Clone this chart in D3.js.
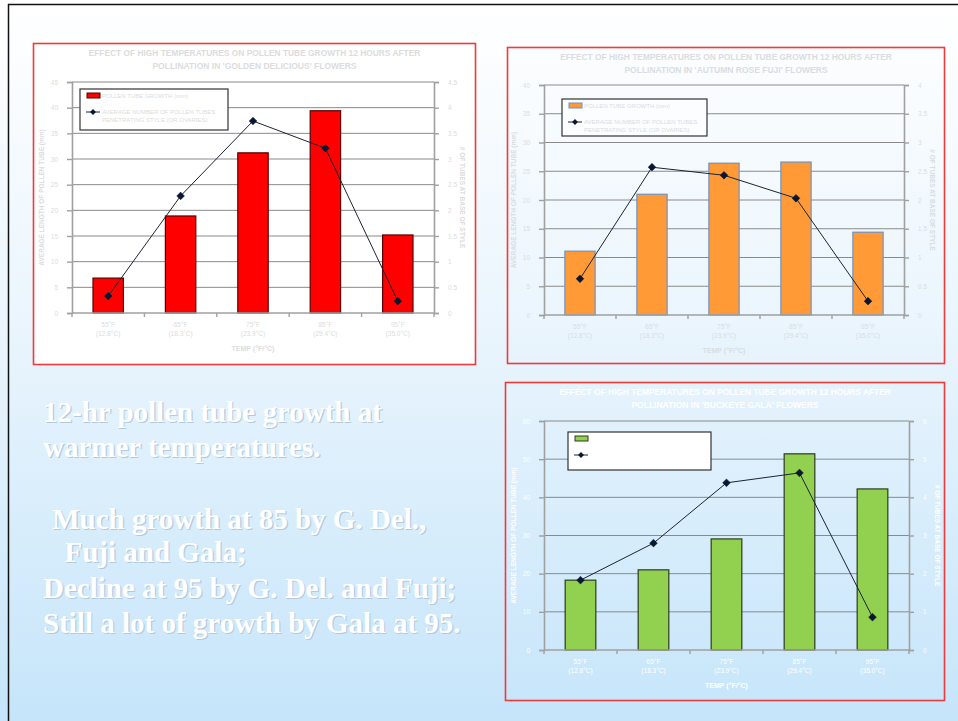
<!DOCTYPE html>
<html><head><meta charset="utf-8">
<script src="https://cdn.jsdelivr.net/npm/d3@7/dist/d3.min.js"></script>
<style>
html,body{margin:0;padding:0;overflow:hidden;}
svg{display:block;}
</style></head>
<body>
<script>
// ---------- DATA ----------
const tempF = ["55°F","65°F","75°F","85°F","95°F"];
const tempC = ["(12.8°C)","(18.3°C)","(23.9°C)","(29.4°C)","(35.0°C)"];

const gdLength = [6.8, 18.9, 31.2, 39.4, 15.2];
const gdTubes  = [0.33, 2.28, 3.74, 3.21, 0.23];
const gdLeftTicks  = [0,5,10,15,20,25,30,35,40,45];
const gdRightTicks = [0,0.5,1,1.5,2,2.5,3,3.5,4,4.5];

const fujiLength = [11.1, 21.0, 26.4, 26.6, 14.4];
const fujiTubes  = [0.63, 2.57, 2.43, 2.03, 0.24];
const fujiLeftTicks  = [0,5,10,15,20,25,30,35,40];
const fujiRightTicks = [0,0.5,1,1.5,2,2.5,3,3.5,4];

const galaLength = [18.3, 21.0, 29.1, 51.4, 42.2];
const galaTubes  = [1.83, 2.80, 4.38, 4.64, 0.86];
const galaLeftTicks  = [0,10,20,30,40,50,60];
const galaRightTicks = [0,1,2,3,4,5,6];

const titleLine1 = "EFFECT OF HIGH TEMPERATURES ON POLLEN TUBE GROWTH 12 HOURS AFTER";
const titles2 = ["POLLINATION IN 'GOLDEN DELICIOUS' FLOWERS","POLLINATION IN 'AUTUMN ROSE FUJI' FLOWERS","POLLINATION IN 'BUCKEYE GALA' FLOWERS"];
const legendBar = "POLLEN TUBE GROWTH (mm)";
const legendLine = ["AVERAGE NUMBER OF POLLEN TUBES","PENETRATING STYLE (OR OVARIES)"];
const leftTitle = "AVERAGE LENGTH OF POLLEN TUBE (mm)";
const rightTitle = "# OF TUBES AT BASE OF STYLE";
const xTitle = "TEMP (°F/°C)";

const slideText = [
  {t:"12-hr pollen tube growth at", x:43, y:422},
  {t:"warmer temperatures.", x:43, y:457},
  {t:" Much growth at 85 by G. Del.,", x:45, y:529},
  {t:"  Fuji and Gala;", x:50, y:562},
  {t:"Decline at 95 by G. Del. and Fuji;", x:43, y:598},
  {t:"Still a lot of growth by Gala at 95.", x:43, y:633}
];

// ---------- DRAW ----------
const W=958,H=721;
const svg=d3.select("body").append("svg").attr("width",W).attr("height",H);
const defs=svg.append("defs");
const g=defs.append("linearGradient").attr("id","bg").attr("x1",0).attr("y1",0).attr("x2",0).attr("y2",1);
g.append("stop").attr("offset","0%").attr("stop-color","#ffffff");
g.append("stop").attr("offset","45%").attr("stop-color","#eaf5fd");
g.append("stop").attr("offset","100%").attr("stop-color","#c6e5fa");
svg.append("rect").attr("width",W).attr("height",H).attr("fill","url(#bg)");
svg.append("line").attr("x1",8).attr("x2",W).attr("y1",4.5).attr("y2",4.5).attr("stroke","#111").attr("stroke-width",1.5);
svg.append("line").attr("x1",8.5).attr("x2",8.5).attr("y1",4).attr("y2",H).attr("stroke","#111").attr("stroke-width",1.5);

function chart(cfg){
  const root=svg.append("g");
  if(cfg.frameFill) root.append("rect").attr("x",cfg.frame[0]).attr("y",cfg.frame[1])
    .attr("width",cfg.frame[2]-cfg.frame[0]).attr("height",cfg.frame[3]-cfg.frame[1]).attr("fill",cfg.frameFill);
  const [l,t,r,b]=cfg.plot;
  const x=d3.scaleBand().domain(tempF).range([l,r]).paddingInner(0.58).paddingOuter(0.29);
  const yL=d3.scaleLinear().domain([0,d3.max(cfg.leftTicks)]).range([b,t]);
  const yR=d3.scaleLinear().domain([0,d3.max(cfg.rightTicks)]).range([b,t]);
  const tc=cfg.textColor;
  // grid
  root.append("g").selectAll("line").data(cfg.leftTicks.filter(d=>d>0)).join("line")
    .attr("x1",l).attr("x2",r).attr("y1",d=>yL(d)).attr("y2",d=>yL(d))
    .attr("stroke","#8a8a8a").attr("stroke-width",1);
  // axes
  const axL=d3.axisLeft(yL).tickValues(cfg.leftTicks).tickSize(5).tickPadding(9).tickFormat(d3.format("~g"));
  const axR=d3.axisRight(yR).tickValues(cfg.rightTicks).tickSize(5).tickPadding(9).tickFormat(d3.format("~g"));
  const gl=root.append("g").attr("transform",`translate(${l},0)`).call(axL);
  const gr=root.append("g").attr("transform",`translate(${r},0)`).call(axR);
  [gl,gr].forEach(a=>{
    a.select(".domain").attr("stroke","#a0a0a0").attr("stroke-width",1.6);
    a.selectAll(".tick line").attr("stroke","#a0a0a0").attr("stroke-width",1.4);
    a.selectAll("text").attr("fill",tc).attr("font-size",6.5).attr("font-family","Liberation Sans, Arial, sans-serif");
  });
  // bars
  root.append("g").selectAll("rect").data(cfg.bars).join("rect")
    .attr("x",(d,i)=>x(tempF[i])).attr("y",d=>yL(d)).attr("width",x.bandwidth())
    .attr("height",d=>b-yL(d)).attr("fill",cfg.barFill).attr("stroke",cfg.barStroke).attr("stroke-width",1.2);
  // x axis line & ticks
  root.append("line").attr("x1",l).attr("x2",r).attr("y1",b).attr("y2",b).attr("stroke","#a0a0a0").attr("stroke-width",1.6);
  const step=x.step();
  root.append("g").selectAll("line").data(d3.range(6)).join("line")
    .attr("x1",i=>l+i*step).attr("x2",i=>l+i*step).attr("y1",b).attr("y2",b+4)
    .attr("stroke","#a0a0a0").attr("stroke-width",1.4);
  // x labels
  const xl=root.append("g").attr("font-family","Liberation Sans, Arial, sans-serif").attr("font-size",6.5).attr("fill",tc).attr("text-anchor","middle");
  xl.selectAll("text.f").data(tempF).join("text").attr("class","f")
    .attr("x",d=>x(d)+x.bandwidth()/2).attr("y",b+14).text(d=>d);
  xl.selectAll("text.c").data(tempC).join("text").attr("class","c")
    .attr("x",(d,i)=>x(tempF[i])+x.bandwidth()/2).attr("y",b+23).text(d=>d);
  root.append("text").attr("x",(l+r)/2).attr("y",b+38).attr("text-anchor","middle")
    .attr("font-family","Liberation Sans, Arial, sans-serif").attr("font-size",7).attr("font-weight","bold").attr("fill",tc).text(xTitle);
  // axis titles
  root.append("text").attr("transform",`translate(${l-28},${(t+b)/2}) rotate(-90)`).attr("text-anchor","middle")
    .attr("font-family","Liberation Sans, Arial, sans-serif").attr("font-size",6.5).attr("font-weight","bold").attr("fill",tc).text(leftTitle);
  root.append("text").attr("transform",`translate(${r+26},${(t+b)/2}) rotate(90)`).attr("text-anchor","middle")
    .attr("font-family","Liberation Sans, Arial, sans-serif").attr("font-size",6.5).attr("font-weight","bold").attr("fill",tc).text(rightTitle);
  // line
  const line=d3.line().x((d,i)=>x(tempF[i])+x.bandwidth()/2).y(d=>yR(d));
  root.append("path").datum(cfg.line).attr("d",line).attr("fill","none").attr("stroke","#1c2333").attr("stroke-width",1);
  root.append("g").selectAll("path").data(cfg.line).join("path")
    .attr("d",d3.symbol(d3.symbolDiamond2,38)())
    .attr("transform",(d,i)=>`translate(${x(tempF[i])+x.bandwidth()/2},${yR(d)})`)
    .attr("fill","#0b1633").attr("stroke","#0b1633").attr("stroke-width",0.5);
  // legend
  const [lx,ly,lw,lh]=cfg.legend;
  const lg=root.append("g").attr("font-family","Liberation Sans, Arial, sans-serif").attr("font-size",6).attr("fill",tc);
  lg.append("rect").attr("x",lx).attr("y",ly).attr("width",lw).attr("height",lh).attr("fill",cfg.legendFill).attr("stroke","#333").attr("stroke-width",1.2);
  lg.append("rect").attr("x",lx+7).attr("y",ly+4).attr("width",13).attr("height",5).attr("fill",cfg.barFill).attr("stroke",cfg.barStroke).attr("stroke-width",1);
  lg.append("text").attr("x",lx+22).attr("y",ly+9).text(legendBar);
  lg.append("line").attr("x1",lx+6).attr("x2",lx+20).attr("y1",ly+23).attr("y2",ly+23).attr("stroke","#1c2333");
  lg.append("path").attr("d",d3.symbol(d3.symbolDiamond2,22)()).attr("transform",`translate(${lx+13},${ly+23})`).attr("fill","#0b1633");
  lg.append("text").attr("x",lx+22).attr("y",ly+25).text(legendLine[0]);
  lg.append("text").attr("x",lx+22).attr("y",ly+33).text(legendLine[1]);
  // title
  const cx=(cfg.frame[0]+cfg.frame[2])/2;
  root.append("text").attr("x",cx).attr("y",cfg.frame[1]+12).attr("text-anchor","middle")
    .attr("font-family","Liberation Sans, Arial, sans-serif").attr("font-size",8.4).attr("font-weight","bold").attr("fill",tc).text(titleLine1);
  root.append("text").attr("x",cx).attr("y",cfg.frame[1]+25).attr("text-anchor","middle")
    .attr("font-family","Liberation Sans, Arial, sans-serif").attr("font-size",8.5).attr("font-weight","bold").attr("fill",tc).text(cfg.title2);
  // frame
  root.append("rect").attr("x",cfg.frame[0]).attr("y",cfg.frame[1])
    .attr("width",cfg.frame[2]-cfg.frame[0]).attr("height",cfg.frame[3]-cfg.frame[1])
    .attr("fill","none").attr("stroke","#f03a3a").attr("stroke-width",1.6);
}

chart({frame:[33.5,43.5,475.5,364.5],frameFill:"#ffffff",plot:[72,82,434,313],
  leftTicks:gdLeftTicks,rightTicks:gdRightTicks,bars:gdLength,line:gdTubes,
  barFill:"#ff0000",barStroke:"#5a0000",textColor:"#dcdcdc",legend:[80,89,148,41],legendFill:"#ffffff",title2:titles2[0]});
chart({frame:[507.5,47.5,944.5,363.5],frameFill:null,plot:[544,85,904,315],
  leftTicks:fujiLeftTicks,rightTicks:fujiRightTicks,bars:fujiLength,line:fujiTubes,
  barFill:"#ff9a36",barStroke:"#6f92c4",textColor:"#d8dde2",legend:[562,99,145,37],legendFill:"#fbfdff",title2:titles2[1]});
chart({frame:[505.5,382.5,944.5,700.5],frameFill:null,plot:[544,421,909,650],
  leftTicks:galaLeftTicks,rightTicks:galaRightTicks,bars:galaLength,line:galaTubes,
  barFill:"#92d050",barStroke:"#2e3a1e",textColor:"#ffffff",legend:[568,432,143,38],legendFill:"#ffffff",title2:titles2[2]});

// slide text
const st=svg.append("g").attr("font-family","Liberation Serif, Times New Roman, serif").attr("font-size",29).attr("font-weight","bold");
st.selectAll("text.s").data(slideText).join("text").attr("class","s")
  .attr("x",d=>d.x+1.2).attr("y",d=>d.y+1.2).attr("fill","#b4cadb").attr("xml:space","preserve").style("white-space","pre").text(d=>d.t);
st.selectAll("text.m").data(slideText).join("text").attr("class","m")
  .attr("x",d=>d.x).attr("y",d=>d.y).attr("fill","#ffffff").attr("xml:space","preserve").style("white-space","pre").text(d=>d.t);
</script>
</body></html>
